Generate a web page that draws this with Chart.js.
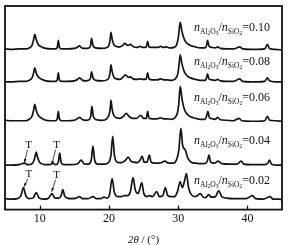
<!DOCTYPE html>
<html>
<head>
<meta charset="utf-8">
<script src="https://cdn.jsdelivr.net/npm/chart.js@4"></script>
<style>
  html, body { margin: 0; padding: 0; background: #fff; }
  canvas { display: block; }
</style>
</head>
<body>
<canvas id="xrd" width="292" height="245"></canvas>
<script>
// ratio labels, top trace first
const ratios = ["0.10", "0.08", "0.06", "0.04", "0.02"];
// vertical offset of each trace (same units as intensity)
const offsets = [160.5, 128, 88.5, 44.5, 10];
const xTicks = [10, 20, 30, 40];

// [2theta, intensity]
const r010 = [[5,0.5],[6,0],[7,0.5],[8,0.5],[8.5,1.5],[8.9,4],[9.1,9],[9.3,15],[9.5,10],[9.8,5],[10.3,2.5],[10.9,1],[11.6,0.5],[12.3,0.5],[12.55,2],[12.7,9],[12.85,2],[13.2,0.5],[14,0.5],[15,1],[15.4,2],[15.75,3.5],[16.1,1.5],[16.6,1],[17.1,1.5],[17.35,4],[17.5,11],[17.7,4],[18.1,1.5],[19,1],[19.7,2],[20.05,5],[20.2,11],[20.3,17],[20.45,11],[20.7,5],[21.1,3],[21.6,2.5],[22,4],[22.3,6],[22.7,4],[23.1,5],[23.5,3],[24,2],[24.5,3],[24.9,2],[25.4,2.5],[25.6,8],[25.8,2.5],[26.3,2],[27,2],[27.5,3],[27.9,2],[28.3,2.5],[28.8,1.5],[29.4,2],[29.8,5],[30.05,13],[30.3,27],[30.55,18],[30.9,10],[31.3,6],[31.8,4],[32.5,2.5],[33.2,1.5],[33.9,1.5],[34.1,4],[34.25,9],[34.45,3.5],[34.9,2],[35.4,1.5],[35.7,2.5],[36.1,1],[37,0.5],[38,0.5],[38.9,2.5],[39.3,0.5],[40.5,0],[41.5,0],[42.5,0.5],[42.9,5],[43.2,1],[44,0],[45,-0.5]];
const r008 = [[5,0],[6,0],[7,0.5],[8,0.5],[8.5,1.5],[8.9,4],[9.1,8],[9.3,14],[9.5,9],[9.8,5],[10.3,2.5],[10.9,1],[11.6,0.5],[12.3,0.5],[12.55,2],[12.7,9],[12.85,2],[13.2,0.5],[14,0.5],[15,1],[15.4,2],[15.8,4],[16.2,1.5],[16.7,1],[17.1,1.5],[17.35,4],[17.5,10],[17.7,4],[18.1,1.5],[19,1],[19.7,2],[20.05,5],[20.2,11],[20.3,17],[20.45,11],[20.7,5],[21.1,3],[21.6,2.5],[22,4.5],[22.4,7],[22.8,4.5],[23.1,5],[23.5,3],[24,2.5],[24.5,3],[24.9,2.5],[25.4,3],[25.6,9],[25.8,3],[26.3,2],[27,2],[27.5,3],[27.9,2],[28.4,2],[29,1.5],[29.6,3],[29.95,8],[30.1,15],[30.3,27],[30.55,18],[30.9,10],[31.3,6],[31.8,4],[32.5,2.5],[33.2,1.5],[33.9,1.5],[34.1,4],[34.25,8],[34.45,3],[34.9,2],[35.4,1.5],[35.7,2.5],[36.1,1],[37,0.5],[38,0.5],[38.9,3],[39.3,0.5],[40.5,0],[41.5,0],[42.5,0.5],[42.9,4],[43.2,1],[44,0],[45,0]];
const r006 = [[5,1],[6,0.5],[7,0.5],[8,0.5],[8.5,2],[8.9,5],[9.1,10],[9.3,17],[9.5,11],[9.8,6],[10.3,3],[10.9,1],[11.6,0.5],[12.3,0.5],[12.55,2.5],[12.7,10],[12.85,2.5],[13.2,0.5],[14,0.5],[15,1],[15.4,2.5],[15.8,4],[16.2,1.5],[16.8,1],[17.2,2],[17.4,6],[17.55,15],[17.75,5],[18.2,1.5],[19,1],[19.7,2.5],[20.05,7],[20.2,13],[20.3,21],[20.45,13],[20.7,6],[21.1,3.5],[21.6,3],[22.1,5],[22.5,8],[22.9,5],[23.4,3],[24,3],[24.6,6],[25,3],[25.4,3],[25.6,10],[25.8,3],[26.3,2.5],[27,2.5],[27.5,3.5],[27.9,2.5],[28.4,2.5],[29,2],[29.6,4],[29.95,10],[30.1,18],[30.3,35],[30.55,23],[30.9,12],[31.3,7],[31.8,4.5],[32.5,3],[33.2,2],[33.9,2],[34.1,5],[34.3,10],[34.5,4],[34.9,2.5],[35.4,2],[35.7,4],[36.1,1.5],[37,1],[38,0.5],[38.8,3],[39.2,0.5],[40.5,0],[41.5,0],[42.5,0.5],[42.9,5],[43.2,1],[44,0.5],[45,0]];
const r004 = [[5,0],[6,0],[7,0.5],[7.8,2],[8.3,0.5],[8.9,1.5],[9.2,5],[9.35,9],[9.5,13],[9.7,8],[10.0,3],[10.5,1],[11,0.5],[11.5,0.5],[11.9,2],[12.3,0.5],[12.7,3],[12.9,12],[13.1,3],[13.5,0.5],[14.5,0.5],[15.5,1.5],[16,5],[16.4,1.5],[17,1],[17.45,5],[17.7,19],[17.95,5],[18.4,1],[19.3,1],[20.0,3],[20.3,10],[20.55,29],[20.8,10],[21.2,3],[21.8,2.5],[22.4,5],[22.8,8],[23.2,4],[23.6,3],[24.1,2.5],[24.5,5],[24.8,9],[25.1,3],[25.5,3],[25.85,10],[26.1,3],[26.6,2],[27.3,2],[28.1,4],[28.6,2],[29.3,2],[29.8,6],[30.1,15],[30.4,37],[30.65,20],[31.05,15],[31.4,7],[31.9,3],[32.6,2],[33.3,1.5],[34.0,2],[34.25,5],[34.45,10],[34.7,3],[35.2,2],[35.8,4],[36.3,1.5],[37.5,1],[38.5,1],[39.1,4],[39.5,1],[40.5,0.5],[41.5,0.5],[42.5,0.5],[42.95,2],[43.2,5],[43.5,1],[44.3,0],[45,0]];
const r002 = [[5,1],[6,0.5],[6.8,1],[7.3,4],[7.67,12],[8,4],[8.5,1],[9.1,2],[9.5,7],[9.9,2],[10.5,0.5],[11.2,1],[11.8,6],[12.2,1.5],[12.8,1.5],[13.1,4],[13.35,10],[13.6,4],[14,1.5],[14.6,1],[15.3,1.5],[15.75,3],[16.2,1],[17,1],[17.7,3],[18.2,1],[18.8,1],[19.3,2.5],[19.7,1.5],[20.1,5],[20.47,21],[20.8,7],[21.3,3],[21.8,3],[22.2,4],[22.7,4],[23.1,8],[23.5,22],[23.8,10],[24.2,6],[24.4,9],[24.75,17],[25.05,6],[25.5,3],[25.85,4],[26.3,3],[26.9,8],[27.3,3],[27.8,4],[28.15,12],[28.5,4],[29,3],[29.5,3],[29.9,8],[30.3,18],[30.6,12],[30.9,18],[31.2,26],[31.5,12],[31.9,5],[32.5,3],[33.2,6],[33.6,2.5],[34.0,2],[34.4,5],[34.8,2.5],[35.4,3],[35.85,9],[36.3,3],[37,1.5],[38,1],[39,1],[39.8,1],[40.75,4],[41.2,1],[42.3,0.5],[43.3,3],[43.7,0.5],[44.5,0.5],[45,0]];
const traces = [r010, r008, r006, r004, r002];

const SERIF = '"Liberation Serif", "Times New Roman", serif';

// frame, inward ticks, axis title, ratio labels and T arrows
const decorations = {
  id: 'decorations',
  afterDraw(chart, args, opts) {
    const ctx = chart.ctx;
    const a = chart.chartArea;
    const xs = chart.scales.x, ys = chart.scales.y;
    ctx.save();
    ctx.strokeStyle = '#111';
    ctx.lineWidth = 1.8;
    ctx.strokeRect(a.left, a.top, a.right - a.left, a.bottom - a.top);
    ctx.lineWidth = 1.3;
    xs.ticks.forEach(t => {
      const px = Math.round(xs.getPixelForValue(t.value)) + 0.5;
      ctx.beginPath();
      ctx.moveTo(px, a.bottom);
      ctx.lineTo(px, a.bottom - 4);
      ctx.stroke();
    });

    // x title: 2θ / (°)
    ctx.fillStyle = '#111';
    ctx.textBaseline = 'alphabetic';
    ctx.textAlign = 'left';
    const t1 = '2θ', t2 = ' / (°)';
    ctx.font = 'italic 11px ' + SERIF;
    const w1 = ctx.measureText(t1).width;
    ctx.font = '11px ' + SERIF;
    const w2 = ctx.measureText(t2).width;
    let tx = (a.left + a.right) / 2 - (w1 + w2) / 2;
    ctx.font = 'italic 11px ' + SERIF;
    ctx.fillText(t1, tx, 243);
    ctx.font = '11px ' + SERIF;
    ctx.fillText(t2, tx + w1, 243);

    // ratio labels
    ratios.forEach((r, i) => {
      let x = xs.getPixelForValue(opts.labelTheta);
      const y = ys.getPixelForValue(opts.labelLevels[i]);
      const parts = [
        ['italic 12px', 'n', 0], ['7.5px', 'Al', 3], ['5.5px', '2', 4.5], ['7.5px', 'O', 3], ['5.5px', '3', 4.5],
        ['12px', '/', 0], ['italic 12px', 'n', 0], ['7.5px', 'SiO', 3], ['5.5px', '2', 4.5], ['12px', '=' + r, 0]
      ];
      parts.forEach(([f, s, dy]) => {
        ctx.font = f + ' ' + SERIF;
        ctx.fillText(s, x, y + dy);
        x += ctx.measureText(s).width;
      });
    });

    // T markers with arrows
    ctx.textAlign = 'center';
    ctx.textBaseline = 'middle';
    ctx.font = '11px ' + SERIF;
    ctx.lineWidth = 0.8;
    opts.tMarks.forEach(m => {
      const lx = xs.getPixelForValue(m.at[0]), ly = ys.getPixelForValue(m.at[1]);
      const hx = xs.getPixelForValue(m.tip[0]), hy = ys.getPixelForValue(m.tip[1]);
      ctx.fillText('T', lx, ly);
      const sx = lx - 1, sy = ly + 5;
      ctx.beginPath();
      ctx.moveTo(sx, sy);
      ctx.lineTo(hx, hy);
      ctx.stroke();
      const ang = Math.atan2(hy - sy, hx - sx);
      ctx.beginPath();
      ctx.moveTo(hx, hy);
      ctx.lineTo(hx - 4 * Math.cos(ang - 0.35), hy - 4 * Math.sin(ang - 0.35));
      ctx.lineTo(hx - 4 * Math.cos(ang + 0.35), hy - 4 * Math.sin(ang + 0.35));
      ctx.closePath();
      ctx.fill();
    });
    ctx.restore();
  }
};

const datasets = traces.map((pts, i) => ({
  label: ratios[i],
  data: pts.map(p => ({ x: p[0], y: p[1] + offsets[i] })),
  borderColor: '#141414',
  borderWidth: 1.7,
  pointRadius: 0,
  fill: false,
  cubicInterpolationMode: 'monotone'
}));

new Chart(document.getElementById('xrd'), {
  type: 'line',
  data: { datasets },
  plugins: [decorations],
  options: {
    responsive: false,
    animation: false,
    devicePixelRatio: 1,
    layout: { padding: { left: 5, right: 10, top: 6, bottom: 17 } },
    plugins: {
      legend: { display: false },
      tooltip: { enabled: false },
      decorations: {
        labelTheta: 32.3,
        labelLevels: [179, 145, 109, 66, 26],
        tMarks: [
          { at: [8.4, 65], tip: [7.8, 47] },
          { at: [12.45, 65], tip: [11.75, 45] },
          { at: [8.45, 36], tip: [7.75, 23] },
          { at: [12.45, 35], tip: [11.75, 18] }
        ]
      }
    },
    scales: {
      x: {
        type: 'linear',
        min: 5,
        max: 45,
        afterBuildTicks: s => { s.ticks = xTicks.map(v => ({ value: v })); },
        grid: { display: false, drawTicks: false },
        border: { display: false },
        ticks: { padding: 2, color: '#111', font: { family: SERIF, size: 12 } }
      },
      y: {
        display: false,
        min: 0,
        max: 204
      }
    }
  }
});
</script>
</body>
</html>
